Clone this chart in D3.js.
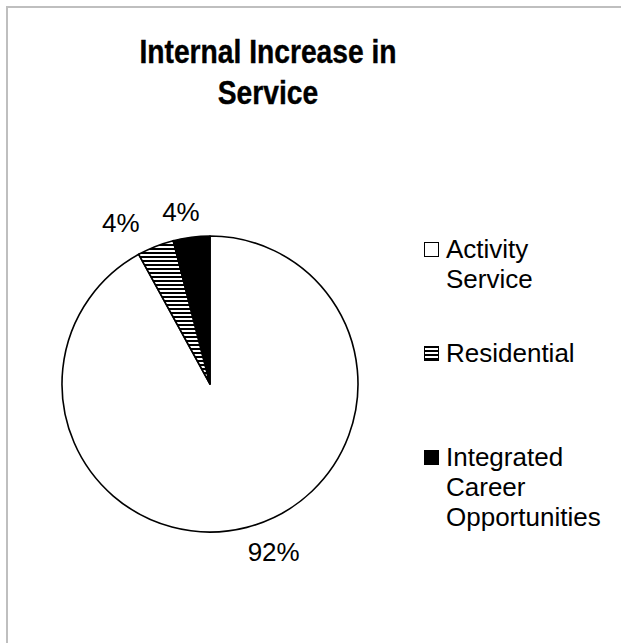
<!DOCTYPE html>
<html>
<head>
<meta charset="utf-8">
<script src="https://cdn.jsdelivr.net/npm/d3@7"></script>
<style>
  body { margin: 0; background: #fff; }
  text { font-family: "Liberation Sans", Arial, sans-serif; fill: #000; }
</style>
</head>
<body>
<div id="main"></div>
<script>
// dataset
const categories = ['Activity Service', 'Residential', 'Integrated Career Opportunities'];
const values = [92, 4, 4];
const percentLabels = ['92%', '4%', '4%'];
const titleLines = ['Internal Increase in', 'Service'];
// dataset

const W = 621, H = 643;
const cx = 210, cy = 384, radius = 148;

const svg = d3.select('#main').append('svg')
  .attr('width', W)
  .attr('height', H);

// hatch for Residential
const defs = svg.append('defs');
const pat = defs.append('pattern')
  .attr('id', 'hatch')
  .attr('patternUnits', 'userSpaceOnUse')
  .attr('width', 8)
  .attr('height', 4);
pat.append('rect').attr('width', 8).attr('height', 4).attr('fill', '#fff');
pat.append('rect').attr('y', 0).attr('width', 8).attr('height', 2).attr('fill', '#000');

const fills = ['#fff', 'url(#hatch)', '#000'];

// chart area border
svg.append('rect')
  .attr('x', 7).attr('y', 7)
  .attr('width', W + 20).attr('height', H + 20)
  .attr('fill', 'none')
  .attr('stroke', '#bfbfbf')
  .attr('stroke-width', 2);

// title (slightly condensed, like the original rendering)
svg.append('text')
  .attr('transform', 'translate(268,0) scale(0.83,1)')
  .attr('text-anchor', 'middle')
  .attr('font-size', 34)
  .attr('font-weight', 'bold')
  .attr('stroke', '#000')
  .attr('stroke-width', 0.4)
  .selectAll('tspan')
  .data(titleLines)
  .enter()
  .append('tspan')
  .attr('x', 0)
  .attr('y', (d, i) => 63 + i * 41)
  .text(d => d);

// pie
const pie = d3.pie().sort(null).value(d => d);
const arcs = pie(values);
const arc = d3.arc().innerRadius(0).outerRadius(radius);

const chart = svg.append('g')
  .attr('transform', `translate(${cx},${cy})`);

chart.selectAll('path')
  .data(arcs)
  .enter()
  .append('path')
  .attr('d', arc)
  .attr('fill', (d, i) => fills[i])
  .attr('stroke', '#000')
  .attr('stroke-width', 1.6)
  .attr('stroke-linejoin', 'round');

// data labels, outside end
const lx = 100, ly = 25;
chart.selectAll('.lbl')
  .data(arcs)
  .enter()
  .append('text')
  .attr('class', 'lbl')
  .attr('font-size', 26)
  .attr('text-anchor', 'middle')
  .attr('x', d => {
    const a = (d.startAngle + d.endAngle) / 2;
    return Math.sin(a) * (radius + lx) + 2;
  })
  .attr('y', d => {
    const a = (d.startAngle + d.endAngle) / 2;
    return -Math.cos(a) * (radius + ly) + 9;
  })
  .text((d, i) => percentLabels[i]);

// legend
const legX = 424, legTextX = 446, legY0 = 258, lineH = 30, entryGap = 104;
const legend = svg.append('g');

categories.forEach((c, i) => {
  const g = legend.append('g')
    .attr('transform', `translate(0,${legY0 + i * entryGap})`);
  g.append('rect')
    .attr('x', legX + 0.5)
    .attr('y', -15.5)
    .attr('width', 14)
    .attr('height', 14)
    .attr('fill', fills[i])
    .attr('stroke', '#000')
    .attr('stroke-width', 1);

  const t = g.append('text')
    .attr('x', legTextX)
    .attr('y', 0)
    .attr('font-size', 26);

  // word wrap
  const words = c.split(' ');
  let line = [];
  let tspan = t.append('tspan').attr('x', legTextX).attr('dy', 0);
  words.forEach(w => {
    line.push(w);
    tspan.text(line.join(' '));
    if (tspan.node().getComputedTextLength() > 160 && line.length > 1) {
      line.pop();
      tspan.text(line.join(' '));
      line = [w];
      tspan = t.append('tspan').attr('x', legTextX).attr('dy', lineH).text(w);
    }
  });
});
</script>
</body>
</html>
